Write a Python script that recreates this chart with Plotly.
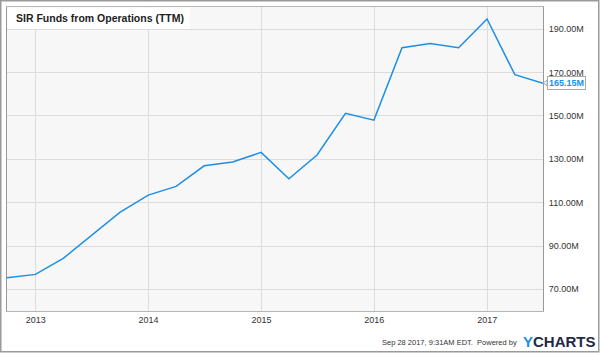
import plotly.graph_objects as go

dates = ["2012-09-30", "2012-12-31", "2013-03-31", "2013-06-30", "2013-09-30", "2013-12-31",
         "2014-03-31", "2014-06-30", "2014-09-30", "2014-12-31", "2015-03-31", "2015-06-30",
         "2015-09-30", "2015-12-31", "2016-03-31", "2016-06-30", "2016-09-30", "2016-12-31",
         "2017-03-31", "2017-06-30"]
ffo_millions = [75.35, 76.9, 84.3, 94.9, 105.5, 113.5,
                117.5, 127.0, 128.75, 133.2, 121.0, 132.0,
                151.2, 148.1, 181.5, 183.5, 181.5, 194.75,
                169.05, 165.15]
y_ticks = [70, 90, 110, 130, 150, 170, 190]
title_text = "SIR Funds from Operations (TTM)"
last_label = "165.15M"
footer_text = "Sep 28 2017, 9:31AM EDT.  Powered by"

W, H = 600, 353
ML, MR, MT, MB = 7, 57, 7, 42
PW, PH = W - ML - MR, H - MT - MB

def px_x(px):
    return (px - ML) / PW

def px_y(py):
    return (H - MB - py) / PH

FONT = "Liberation Sans, Arial, sans-serif"

fig = go.Figure()
fig.add_trace(go.Scatter(x=dates, y=ffo_millions, mode="lines",
                         line=dict(color="#1e8fe6", width=1.5), hoverinfo="skip"))

fig.update_layout(
    width=W, height=H,
    margin=dict(l=ML, r=MR, t=MT, b=MB),
    paper_bgcolor="white", plot_bgcolor="#f7f7f7",
    showlegend=False,
    font=dict(family=FONT, size=9, color="#333333"),
    xaxis=dict(range=["2012-09-30", "2017-06-30"], type="date",
               tick0="2013-01-01", dtick="M12", tickformat="%Y",
               showgrid=True, gridcolor="#dcdcdc", gridwidth=1,
               showline=True, linecolor="#b5b5b5", linewidth=1, mirror=True,
               ticks="", zeroline=False, tickfont=dict(size=9, color="#333333")),
    yaxis=dict(range=[60, 200.3], side="right", tickvals=y_ticks,
               ticktext=[f"{v:.2f}M" for v in y_ticks],
               showgrid=True, gridcolor="#dcdcdc", gridwidth=1,
               showline=True, linecolor="#999999", linewidth=1, mirror=True,
               ticks="", zeroline=False, ticklabelstandoff=3,
               tickfont=dict(size=9, color="#333333")),
    shapes=[
        dict(type="rect", xref="paper", yref="paper",
             x0=px_x(0.75), x1=px_x(598.75), y0=px_y(351.75), y1=px_y(0.75),
             line=dict(color="#9a9a9a", width=1.5), fillcolor="rgba(0,0,0,0)", layer="above"),
        dict(type="rect", xref="paper", yref="paper",
             x0=px_x(7.6), x1=px_x(190), y0=px_y(29), y1=px_y(7.6),
             line=dict(width=0), fillcolor="white", layer="above"),
        dict(type="path", xref="paper", yref="paper",
             path=f"M {px_x(543.5)} {px_y(83)} L {px_x(547)} {px_y(80)} L {px_x(547)} {px_y(86)} Z",
             line=dict(color="#aaaaaa", width=1), fillcolor="white", layer="above"),
    ],
    annotations=[
        dict(text=f"<b>{title_text}</b>", xref="paper", yref="paper",
             x=px_x(14), y=px_y(18), xanchor="left", yanchor="middle", showarrow=False,
             font=dict(family=FONT, size=10.5, color="#222222")),
        dict(text=f"<b>{last_label}</b>", xref="paper", yref="y",
             x=px_x(547), y=ffo_millions[-1], xanchor="left", yanchor="middle", showarrow=False,
             font=dict(family=FONT, size=9, color="#1e8fe6"),
             bgcolor="white", bordercolor="#aaaaaa", borderwidth=1, borderpad=1),
        dict(text=footer_text, xref="paper", yref="paper",
             x=px_x(519), y=px_y(342), xanchor="right", yanchor="middle", showarrow=False,
             font=dict(family=FONT, size=7.5, color="#333333")),
        dict(text="<b><span style='color:#1e8fe6'>Y</span>CHARTS</b>", xref="paper", yref="paper",
             x=px_x(521), y=px_y(341), xanchor="left", yanchor="middle", showarrow=False,
             font=dict(family=FONT, size=15, color="#1f2a44")),
    ],
)

fig.write_html("out.html")
